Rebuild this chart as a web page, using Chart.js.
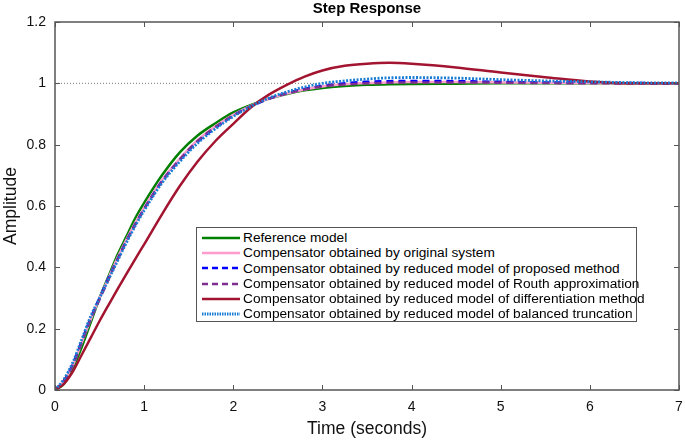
<!DOCTYPE html>
<html>
<head>
<meta charset="utf-8">
<script src="https://cdn.jsdelivr.net/npm/chart.js@4.4.1/dist/chart.umd.min.js"></script>
<style>
  html, body { margin: 0; padding: 0; background: #fff; }
  #wrap { position: relative; width: 685px; height: 441px; }
  #legend {
    position: absolute; left: 196px; top: 227px; width: 441px; height: 95px;
    background: #fff; border: 1px solid #555; box-sizing: border-box;
    font-family: "Liberation Sans", Arial, sans-serif; font-size: 13.7px; color: #000;
    padding-top: 2px;
  }
  .row { height: 15.3px; line-height: 15.3px; display: flex; align-items: center; white-space: nowrap; }
  .row svg { margin-left: 5px; margin-right: 3px; flex: none; }
</style>
</head>
<body>
<div id="wrap">
  <canvas id="c" width="685" height="441"></canvas>
  <div id="legend"></div>
</div>
<script>
// ---- Data ----
const TIME = [0,0.1,0.2,0.3,0.4,0.5,0.6,0.7,0.8,0.9,1.0,1.2,1.4,1.6,1.8,2.0,2.2,2.4,2.6,2.8,3.0,3.25,3.5,3.75,4.0,4.5,5.0,5.5,6.0,6.5,7.0];

const referenceModel = [0,0.02,0.07,0.14,0.22,0.30,0.37,0.44,0.50,0.56,0.61,0.70,0.775,0.83,0.87,0.905,0.93,0.95,0.965,0.977,0.985,0.991,0.995,0.997,0.998,0.999,1.0,1.0,1.0,1.0,1.0];
const originalSystem = [0,0.03,0.08,0.155,0.23,0.30,0.365,0.43,0.49,0.545,0.595,0.685,0.755,0.815,0.86,0.897,0.927,0.95,0.967,0.98,0.99,0.997,1.001,1.003,1.004,1.004,1.003,1.002,1.001,1.0,1.0];
const proposedMethod = [0,0.03,0.085,0.16,0.235,0.30,0.365,0.425,0.485,0.54,0.59,0.68,0.75,0.81,0.855,0.895,0.925,0.95,0.968,0.982,0.992,1.0,1.005,1.007,1.008,1.007,1.005,1.003,1.002,1.001,1.0];
const routhApprox = [0,0.03,0.08,0.155,0.23,0.295,0.36,0.425,0.485,0.54,0.59,0.68,0.752,0.812,0.858,0.895,0.926,0.95,0.967,0.98,0.99,0.996,1.0,1.002,1.003,1.003,1.002,1.001,1.0,1.0,1.0];
const differentiationMethod = [0,0.02,0.06,0.115,0.17,0.225,0.277,0.328,0.378,0.427,0.475,0.573,0.665,0.745,0.812,0.868,0.922,0.963,0.995,1.022,1.042,1.057,1.064,1.067,1.064,1.052,1.035,1.02,1.006,1.0,1.0];
const balancedTruncation = [0,0.035,0.09,0.165,0.24,0.30,0.36,0.42,0.48,0.535,0.585,0.675,0.745,0.805,0.852,0.892,0.925,0.952,0.972,0.988,1.0,1.008,1.014,1.018,1.019,1.017,1.012,1.008,1.005,1.002,1.001];
const steadyStateT = [0,7];
const steadyStateY = [1,1];

const X_TICKS = [0,1,2,3,4,5,6,7];
const Y_TICKS = [0,0.2,0.4,0.6,0.8,1,1.2];

const LABELS = [
  "Reference model",
  "Compensator obtained by original system",
  "Compensator obtained by reduced model of proposed method",
  "Compensator obtained by reduced model of Routh approximation",
  "Compensator obtained by reduced model of differentiation method",
  "Compensator obtained by reduced model of balanced truncation"
];

const FONT = '"Liberation Sans", Arial, sans-serif';
const pts = (xs, ys) => xs.map((x, i) => ({x, y: ys[i]}));

const styles = [
  {color:'#008000', dash:[], width:2.5, order:5},
  {color:'#ff9ccc', dash:[], width:2.5, order:4},
  {color:'#0000ff', dash:[7,5], width:2.5, order:3},
  {color:'#7e2f8e', dash:[7,5], width:2.5, order:2},
  {color:'#a2142f', dash:[], width:2.5, order:1},
  {color:'#1a7fd4', dash:[2,1.5], width:2.8, order:0}
];
const series = [referenceModel, originalSystem, proposedMethod, routhApprox, differentiationMethod, balancedTruncation];

const datasets = [{
  label: 'steady', data: pts(steadyStateT, steadyStateY), borderColor: '#777', borderWidth: 1,
  borderDash: [1,2], pointRadius: 0, order: 10, tension: 0
}];
series.forEach((s, i) => {
  datasets.push({
    label: LABELS[i], data: pts(TIME, s), borderColor: styles[i].color,
    borderWidth: styles[i].width, borderDash: styles[i].dash, pointRadius: 0,
    cubicInterpolationMode: 'monotone', order: styles[i].order, fill: false
  });
});

const framePlugin = {
  id: 'frame',
  afterDatasetsDraw(chart) {
    const {ctx, chartArea: a, scales: {x, y}} = chart;
    ctx.save();
    ctx.strokeStyle = '#555';
    ctx.lineWidth = 1;
    ctx.beginPath();
    X_TICKS.forEach(v => {
      const px = Math.round(x.getPixelForValue(v)) + 0.5;
      ctx.moveTo(px, a.bottom); ctx.lineTo(px, a.bottom - 5);
      ctx.moveTo(px, a.top); ctx.lineTo(px, a.top + 5);
    });
    Y_TICKS.forEach(v => {
      const py = Math.round(y.getPixelForValue(v)) + 0.5;
      ctx.moveTo(a.left, py); ctx.lineTo(a.left + 5, py);
      ctx.moveTo(a.right, py); ctx.lineTo(a.right - 5, py);
    });
    ctx.stroke();
    ctx.lineWidth = 1.5;
    ctx.strokeRect(a.left, a.top, a.right - a.left, a.bottom - a.top);
    ctx.fillStyle = '#000';
    ctx.font = 'bold 15px ' + FONT;
    ctx.textAlign = 'center';
    ctx.textBaseline = 'middle';
    ctx.fillText('Step Response', (a.left + a.right) / 2, 9);
    ctx.restore();
  }
};

new Chart(document.getElementById('c'), {
  type: 'line',
  data: { datasets },
  options: {
    responsive: false,
    animation: false,
    layout: { padding: { top: 22, right: 0, left: 0, bottom: 0 } },
    plugins: { legend: { display: false }, tooltip: { enabled: false }, title: { display: false } },
    scales: {
      x: {
        type: 'linear', min: 0, max: 7,
        afterBuildTicks: s => { s.ticks = X_TICKS.map(v => ({value: v})); },
        afterFit: s => { s.height = 51; s.paddingRight = 6; s.paddingLeft = 0; },
        grid: { display: false, drawTicks: false },
        border: { display: false },
        ticks: { font: { family: FONT, size: 14 }, color: '#111', padding: 9, maxRotation: 0 },
        title: { display: true, text: 'Time (seconds)', font: { family: FONT, size: 17.5 }, color: '#111', padding: { top: 0, bottom: 1 } }
      },
      y: {
        type: 'linear', min: 0, max: 1.2,
        afterBuildTicks: s => { s.ticks = Y_TICKS.map(v => ({value: v})); },
        afterFit: s => { s.width = 55; },
        grid: { display: false, drawTicks: false },
        border: { display: false },
        ticks: { font: { family: FONT, size: 14 }, color: '#111', padding: 9, callback: v => String(Math.round(v * 10) / 10) },
        title: { display: true, text: 'Amplitude', font: { family: FONT, size: 17.5 }, color: '#111', padding: { top: 1, bottom: 0 } }
      }
    }
  },
  plugins: [framePlugin]
});

// HTML legend
const legend = document.getElementById('legend');
LABELS.forEach((lab, i) => {
  const st = styles[i];
  const dash = i === 5 ? '1.5,1' : (st.dash.length ? '6,4' : '');
  const row = document.createElement('div');
  row.className = 'row';
  row.innerHTML = '<svg width="38" height="6"><line x1="0" y1="3" x2="38" y2="3" stroke="' + st.color +
    '" stroke-width="' + (i === 5 ? 2.8 : 2.5) + '"' + (dash ? ' stroke-dasharray="' + dash + '"' : '') + '/></svg>' +
    '<span>' + lab + '</span>';
  legend.appendChild(row);
});
</script>
</body>
</html>
